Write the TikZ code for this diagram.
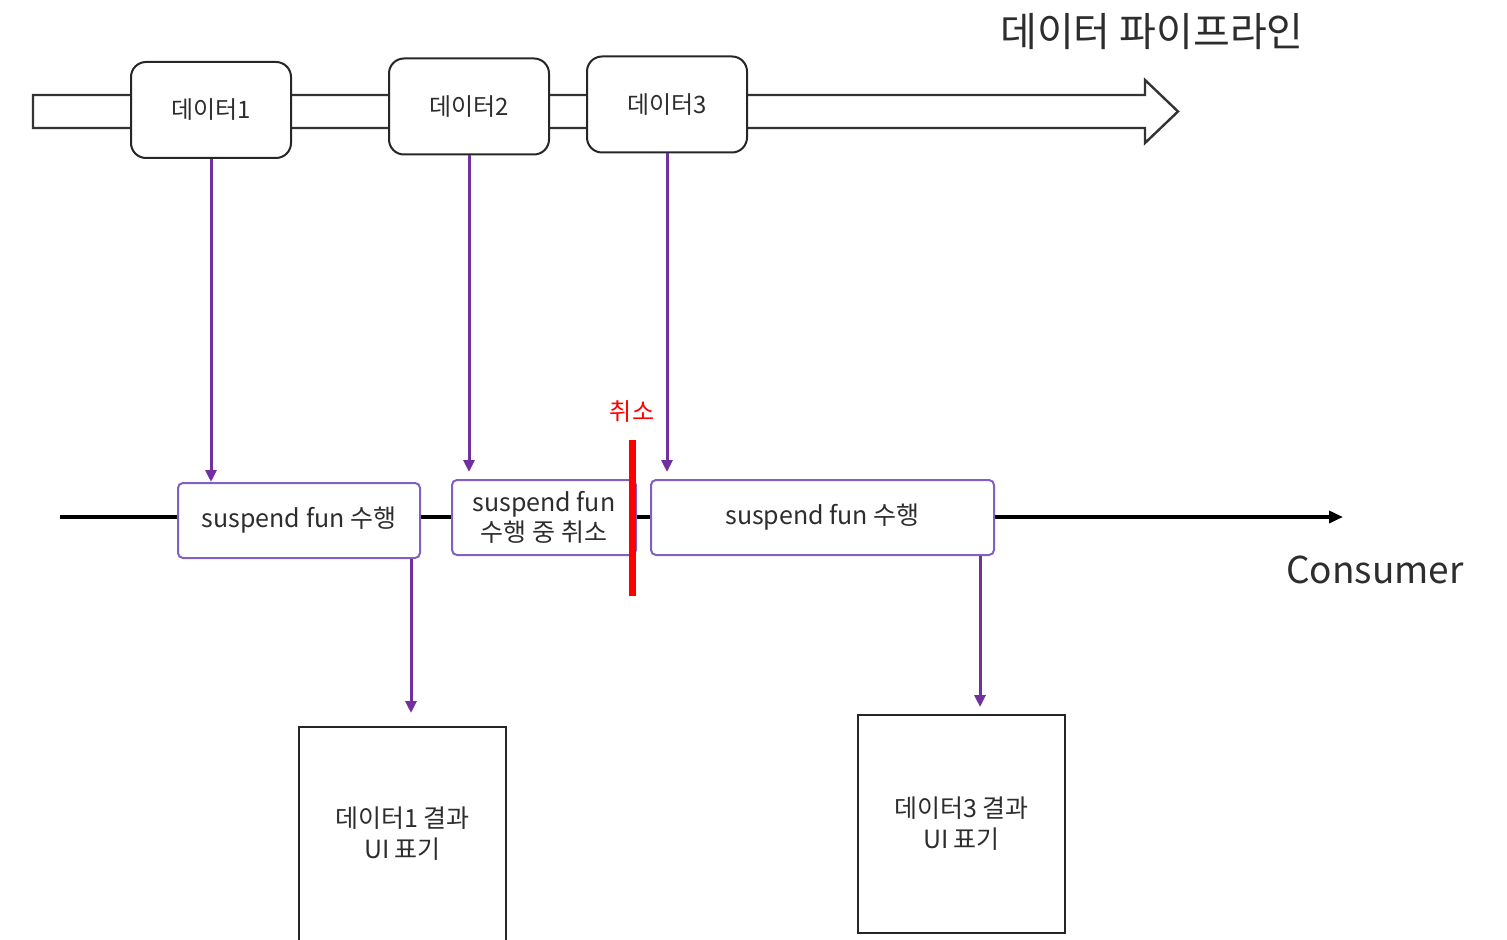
\documentclass[tikz,border=0pt]{standalone}
\usepackage{fontspec}
\setmainfont{Noto Sans CJK KR}
\usetikzlibrary{arrows.meta,positioning}
\definecolor{flowpurple}{RGB}{112,48,160}
\definecolor{boxpurple}{RGB}{130,95,195}
\definecolor{textgray}{RGB}{45,45,45}
\tikzset{
    x=0.5pt, y=-0.5pt, % one unit is one pixel of the reference. Change if necessary.
    }

\begin{document}
\begin{tikzpicture}[
datanode/.style={rectangle, rounded corners=7.5pt, draw=black!85, line width=1pt, fill=white, minimum width=80pt, minimum height=48pt, inner sep=0pt, font=\fontsize{12}{14}\selectfont, text=textgray},
funnode/.style={rectangle, rounded corners=2.5pt, draw=boxpurple, line width=1pt, fill=white, minimum height=37.5pt, inner sep=0pt, align=center, font=\fontsize{12.5}{15}\selectfont, text=textgray},
uinode/.style={rectangle, draw=black!85, line width=1pt, fill=white, minimum width=103.5pt, inner sep=0pt, align=center, font=\fontsize{12.5}{15.5}\selectfont, text=textgray},
flow/.style={draw=flowpurple, line width=1.5pt, -{Triangle[length=6pt,width=5.5pt]}},
]
\useasboundingbox (0,0) rectangle (1507,940);

\draw[line width=1.2pt, draw=black!80, fill=white] (33,95) -- (1145,95) -- (1145,80) -- (1178,111.5) -- (1145,143) -- (1145,128) -- (33,128) -- cycle;
\node[font=\fontsize{20}{24}\selectfont, text=textgray] (pipeline) at (1152,32) {데이터 파이프라인};

\node[datanode] (data1) at (211,110) {데이터1};
\node[datanode] (data2) at (469,106.5) {데이터2};
\node[datanode] (data3) at (667,104.5) {데이터3};

\coordinate (consumerstart) at (60,517);
\coordinate (consumerend) at (1343,517);
\draw[line width=2pt, -{Triangle[length=7pt,width=6pt]}] (consumerstart) -- (consumerend);
\node[font=\fontsize{18.5}{22}\selectfont, text=textgray] (consumer) at (1375,570) {Consumer};

\node[funnode, minimum width=121pt] (fun1) at (299,520.5) {suspend fun 수행};
\node[funnode, minimum width=92pt] (fun2) at (544,517.5) {suspend fun\\수행 중 취소};
\node[funnode, minimum width=171.5pt] (fun3) at (822.5,517.5) {suspend fun 수행};

\node[text=red, font=\fontsize{12}{14}\selectfont] (cancel) at (632,412) {취소};
\coordinate (cuttop) at (632,440);
\coordinate (cutbottom) at (632,596);
\draw[red, line width=3.5pt] (cuttop) -- (cutbottom);

\node[uinode, minimum height=107pt] (ui1) at (402.5,834) {데이터1 결과\\UI 표기};
\node[uinode, minimum height=109pt] (ui3) at (961.5,824) {데이터3 결과\\UI 표기};

\coordinate (fun1out) at ([xshift=-5pt]fun1.south east);
\coordinate (fun3out) at ([xshift=-7.5pt]fun3.south east);

\draw[flow] (data1.south) -- (data1.south |- fun1.north);
\draw[flow, shorten >=3.5pt] (data2.south) -- (data2.south |- fun2.north);
\draw[flow, shorten >=3.5pt] (data3.south) -- (data3.south |- fun3.north);
\draw[flow, shorten >=6.5pt] (fun1out) -- (fun1out |- ui1.north);
\draw[flow, shorten >=3.5pt] (fun3out) -- (fun3out |- ui3.north);
\end{tikzpicture}
\end{document}
